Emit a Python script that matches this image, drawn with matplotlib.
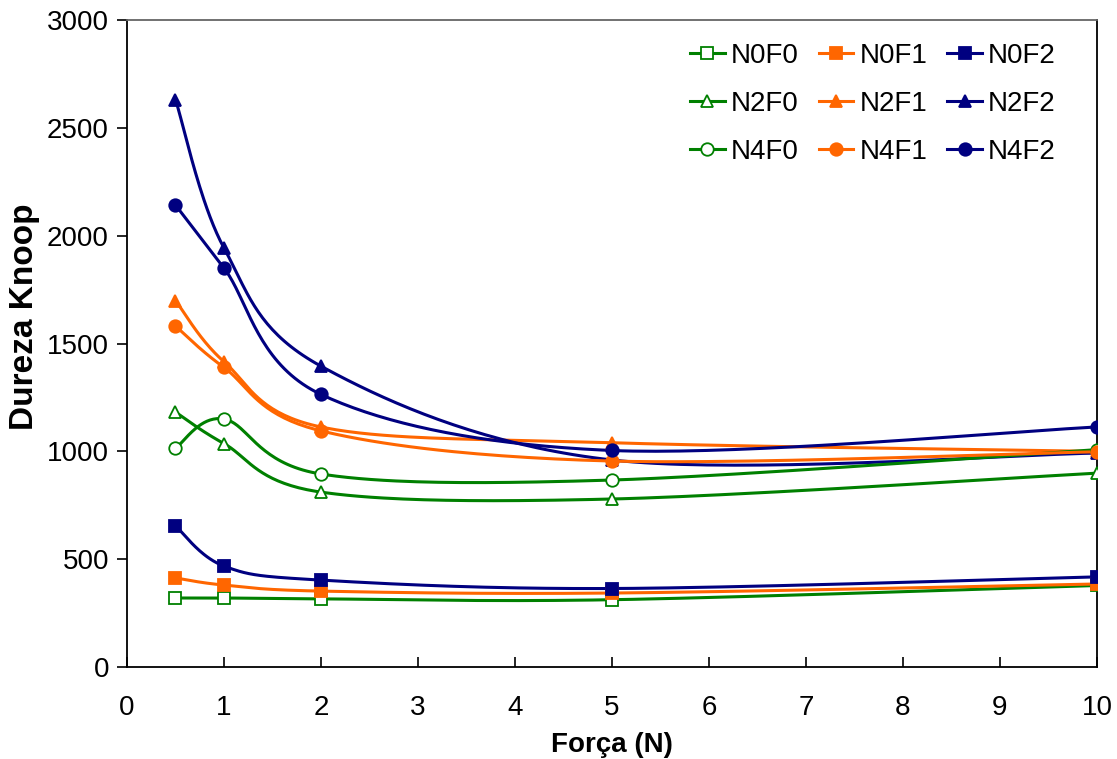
import numpy as np
import matplotlib
matplotlib.use('Agg')
import matplotlib.pyplot as plt
from matplotlib.lines import Line2D

plt.rcParams['font.family'] = ['Liberation Sans', 'DejaVu Sans']

# dados
forca = [0.5, 1, 2, 5, 10]
N0F0 = [320, 320, 316, 312, 378]
N0F1 = [413, 380, 352, 343, 385]
N0F2 = [654, 468, 403, 364, 418]
N2F0 = [1182, 1036, 811, 779, 899]
N2F1 = [1699, 1416, 1113, 1040, 1000]
N2F2 = [2631, 1943, 1395, 960, 992]
N4F0 = [1015, 1150, 895, 867, 1008]
N4F1 = [1581, 1389, 1095, 955, 998]
N4F2 = [2142, 1850, 1264, 1004, 1113]

VERDE, LARANJA, AZUL = '#008000', '#FF6600', '#000080'

series = [
    ('N0F0', N0F0, VERDE, 's', False), ('N0F1', N0F1, LARANJA, 's', True), ('N0F2', N0F2, AZUL, 's', True),
    ('N2F0', N2F0, VERDE, '^', False), ('N2F1', N2F1, LARANJA, '^', True), ('N2F2', N2F2, AZUL, '^', True),
    ('N4F0', N4F0, VERDE, 'o', False), ('N4F1', N4F1, LARANJA, 'o', True), ('N4F2', N4F2, AZUL, 'o', True),
]

SX, SY = 96.9, 0.2157   # px por unidade, para suavizar no espaço da tela


def suave(x, y, n=40):
    # curva tipo Excel (Catmull-Rom via Bezier) feita em coordenadas de tela
    p = np.column_stack([np.array(x) * SX, np.array(y) * SY])
    pp = np.vstack([p[0], p, p[-1]])
    out = []
    t = np.linspace(0, 1, n)[:, None]
    for i in range(1, len(pp) - 2):
        p0, p3 = pp[i], pp[i + 1]
        c1 = p0 + (pp[i + 1] - pp[i - 1]) / 6
        c2 = p3 - (pp[i + 2] - pp[i]) / 6
        b = (1 - t) ** 3 * p0 + 3 * (1 - t) ** 2 * t * c1 + 3 * (1 - t) * t ** 2 * c2 + t ** 3 * p3
        out.append(b)
    b = np.vstack(out)
    return b[:, 0] / SX, b[:, 1] / SY


fig = plt.figure(figsize=(11.17, 7.59), dpi=100)
ax = fig.add_axes([0.1137, 0.1212, 0.8683, 0.8524])

handles = {}
for nome, vals, cor, mk, cheio in series:
    xs, ys = suave(forca, vals)
    ax.plot(xs, ys, color=cor, lw=2.2, zorder=2)
    fc = cor if cheio else 'white'
    ax.plot(forca, vals, ls='none', marker=mk, ms=9, mfc=fc, mec=cor, mew=1.3, zorder=3)
    handles[nome] = Line2D([], [], color=cor, lw=2.2, marker=mk, ms=9, mfc=fc, mec=cor, mew=1.3)

ax.set_xlim(0, 10)
ax.set_ylim(0, 3000)
ax.set_xticks(range(0, 11))
ax.set_yticks(range(0, 3001, 500))
ax.tick_params(axis='x', direction='in', length=7, labelsize=20, pad=20, width=1.2)
ax.tick_params(axis='y', direction='out', length=7, labelsize=20, pad=6, width=1.2)
for s in ['left', 'bottom', 'top', 'right']:
    ax.spines[s].set_linewidth(1.3)
ax.spines['top'].set_color('#666666')

ax.set_xlabel('Força (N)', fontsize=20, weight='bold', labelpad=8)
# rótulo do eixo y um pouco maior e acima do centro, como no original
fig.text(25 / 1117, 1 - 317 / 759, 'Dureza Knoop', rotation=90, ha='center', va='center',
         fontsize=24, weight='bold')

ordem = ['N0F0', 'N2F0', 'N4F0', 'N0F1', 'N2F1', 'N4F1', 'N0F2', 'N2F2', 'N4F2']
leg = ax.legend([handles[k] for k in ordem], ordem, ncol=3, frameon=False, fontsize=20,
                loc='upper right', bbox_to_anchor=(0.975, 0.99), handlelength=1.25,
                handletextpad=0.22, columnspacing=0.72, labelspacing=0.78, borderaxespad=0.2)

fig.savefig('out.png', dpi=100, facecolor='white')
